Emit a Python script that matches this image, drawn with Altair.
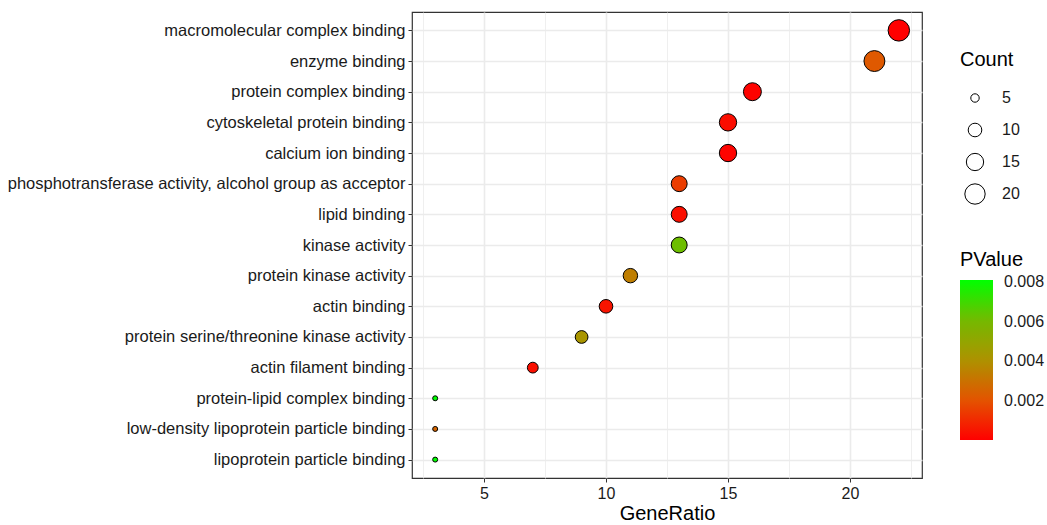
import altair as alt
import pandas as pd

# GO molecular-function enrichment terms, top to bottom
terms = [
    "macromolecular complex binding",
    "enzyme binding",
    "protein complex binding",
    "cytoskeletal protein binding",
    "calcium ion binding",
    "phosphotransferase activity, alcohol group as acceptor",
    "lipid binding",
    "kinase activity",
    "protein kinase activity",
    "actin binding",
    "protein serine/threonine kinase activity",
    "actin filament binding",
    "protein-lipid complex binding",
    "low-density lipoprotein particle binding",
    "lipoprotein particle binding",
]
gene_ratio = [22, 21, 16, 15, 15, 13, 13, 13, 11, 10, 9, 7, 3, 3, 3]
counts = [22, 21, 16, 15, 15, 13, 13, 13, 11, 10, 9, 7, 3, 3, 3]
pvalues = [0.00003, 0.0022, 0.0001, 0.00035, 0.0001, 0.0015, 0.0004, 0.0062,
           0.0034, 0.0005, 0.0042, 0.0004, 0.0081, 0.0026, 0.0081]

count_legend_values = [5, 10, 15, 20]
pvalue_legend_values = [0.002, 0.004, 0.006, 0.008]
x_ticks = [2.5, 5, 7.5, 10, 12.5, 15, 17.5, 20, 22.5]

# red -> green ramp, darker olive in the middle
ramp_colors = ["#ff0000", "#e35400", "#ad9200", "#74ba00", "#00ff00"]

df = pd.DataFrame({
    "Term": terms,
    "GeneRatio": gene_ratio,
    "Count": counts,
    "PValue": pvalues,
})

FONT = "Liberation Sans"
TEXT = "#1a1a1a"
GRID = "#ebebeb"

x_lo, x_hi = min(gene_ratio), max(gene_ratio)
x_pad = (x_hi - x_lo) * 0.05

p_lo, p_hi = min(pvalues), max(pvalues)
n_stops = len(ramp_colors)
p_stops = [p_lo + (p_hi - p_lo) * k / (n_stops - 1) for k in range(n_stops)]

chart = alt.Chart(df).mark_circle(
    stroke="black", strokeWidth=1, opacity=1
).encode(
    x=alt.X(
        "GeneRatio:Q",
        scale=alt.Scale(domain=[x_lo - x_pad, x_hi + x_pad], nice=False, zero=False),
        axis=alt.Axis(
            values=x_ticks,
            labelExpr="datum.value % 5 === 0 ? datum.label : ''",
            title="GeneRatio",
            titleFontSize=20,
            titleFontWeight="normal",
            titleColor="black",
            titlePadding=2,
            labelFontSize=16,
            labelColor=TEXT,
            labelPadding=3,
            tickSize=4,
            tickColor="#333333",
            tickOpacity={"condition": {"test": "datum.value % 5 === 0", "value": 1}, "value": 0},
            grid=True,
            gridColor=GRID,
            gridWidth={"condition": {"test": "datum.value % 5 === 0", "value": 1.6}, "value": 0.8},
            domain=False,
        ),
    ),
    y=alt.Y(
        "Term:N",
        sort=terms,
        scale=alt.Scale(padding=0.6),
        axis=alt.Axis(
            title=None,
            labelFontSize=16.5,
            labelColor=TEXT,
            labelPadding=3,
            labelLimit=600,
            tickSize=4,
            tickColor="#333333",
            grid=True,
            gridColor=GRID,
            gridWidth=1.6,
            domain=False,
        ),
    ),
    size=alt.Size(
        "Count:Q",
        scale=alt.Scale(domain=[min(counts), max(counts)], range=[25, 460], zero=False),
        legend=alt.Legend(
            title="Count",
            values=count_legend_values,
            orient="none",
            legendX=548,
            legendY=38,
            titleFontSize=20,
            titleFontWeight="normal",
            titleColor="black",
            titlePadding=17,
            labelFontSize=16,
            labelColor=TEXT,
            labelOffset=16,
            symbolFillColor="white",
            symbolStrokeColor="black",
            symbolStrokeWidth=1,
            symbolOpacity=1,
            symbolOffset=4,
            clipHeight=22,
            rowPadding=10,
            offset=0,
        ),
    ),
    color=alt.Color(
        "PValue:Q",
        scale=alt.Scale(
            domain=p_stops,
            range=ramp_colors,
            interpolate="rgb",
            nice=False,
            zero=False,
        ),
        legend=alt.Legend(
            title="PValue",
            values=pvalue_legend_values,
            format=".3f",
            orient="none",
            legendX=548,
            legendY=238,
            gradientLength=160,
            gradientThickness=33,
            gradientStrokeWidth=0,
            titleFontSize=20,
            titleFontWeight="normal",
            titleColor="black",
            titlePadding=10,
            labelFontSize=16,
            labelColor=TEXT,
            labelOffset=11,
        ),
    ),
    order=alt.Order("Count:Q", sort="descending"),
).properties(
    width=510,
    height=466,
    autosize=alt.AutoSizeParams(type="none"),
    padding={"left": 412, "top": 12, "right": 125, "bottom": 47},
).configure(
    font=FONT,
).configure_view(
    stroke="#333333",
    strokeWidth=1.2,
)

chart.save("out.html", embed_options={"renderer": "svg", "actions": False})
